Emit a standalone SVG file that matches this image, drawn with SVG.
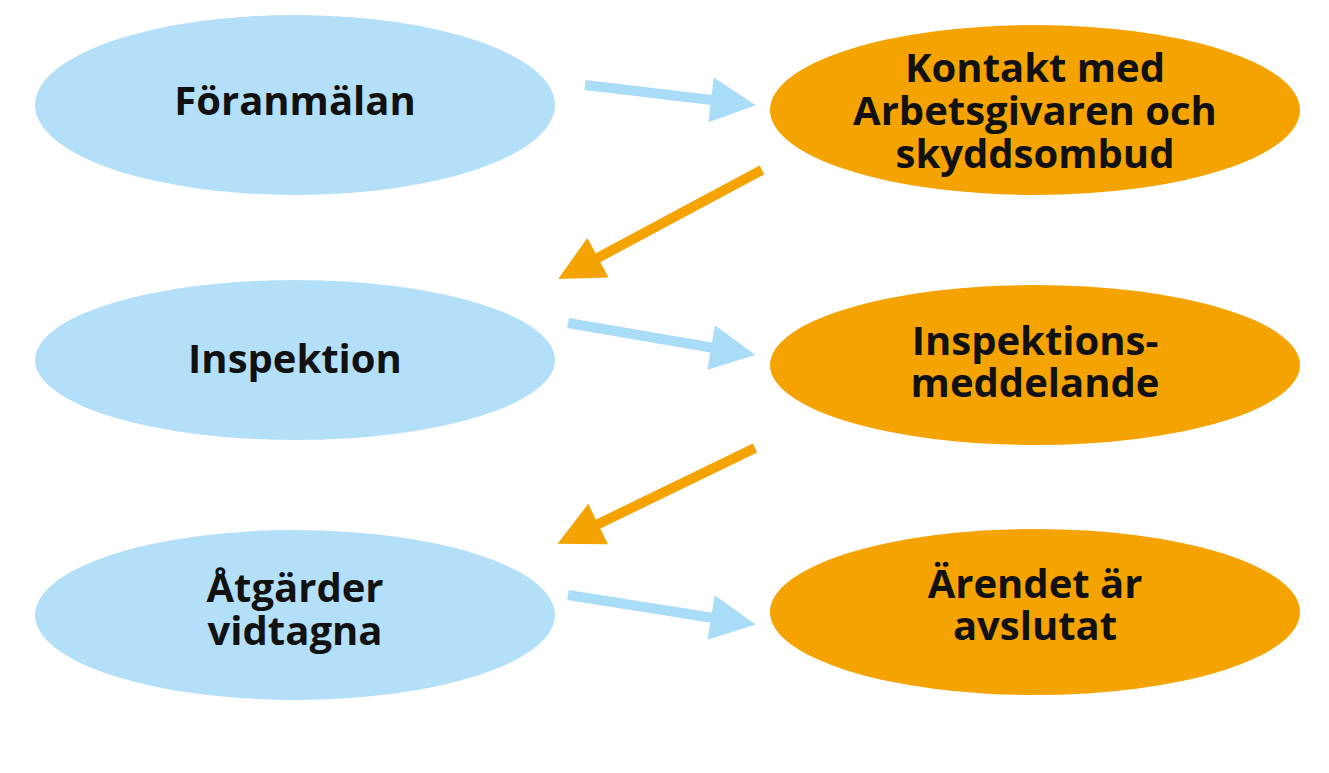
<svg xmlns="http://www.w3.org/2000/svg" width="1329" height="773" viewBox="0 0 1329 773">
<style>
.b{fill:#b3e0f8}.o{fill:#f5a300}
text{font-family:"Open Sans","DejaVu Sans",sans-serif;font-weight:bold;font-size:40px;fill:#111;text-anchor:middle}
.lb{stroke:#a9dcf7;stroke-width:10}.lo{stroke:#f5a300;stroke-width:10}
</style>
<defs>
<marker id="mb" viewBox="0 0 10 10" refX="2" refY="5" markerWidth="5" markerHeight="4.5" orient="auto" markerUnits="strokeWidth"><path d="M0,0L10,5L0,10z" fill="#a9dcf7"/></marker>
<marker id="mo" viewBox="0 0 10 10" refX="2" refY="5" markerWidth="5" markerHeight="4.5" orient="auto" markerUnits="strokeWidth"><path d="M0,0L10,5L0,10z" fill="#f5a300"/></marker>
</defs>
<rect width="1329" height="773" fill="#fff"/>
<g id="n1"><ellipse class="b" cx="295" cy="105" rx="260" ry="90"/><text x="295" y="115">Föranmälan</text></g>
<g id="n2"><ellipse class="o" cx="1035" cy="110" rx="265" ry="85"/><text x="1035" y="82">Kontakt med</text><text x="1035" y="125">Arbetsgivaren och</text><text x="1035" y="168">skyddsombud</text></g>
<g id="n3"><ellipse class="b" cx="295" cy="360" rx="260" ry="80"/><text x="295" y="373">Inspektion</text></g>
<g id="n4"><ellipse class="o" cx="1035" cy="365" rx="265" ry="80"/><text x="1035" y="355">Inspektions-</text><text x="1035" y="397">meddelande</text></g>
<g id="n5"><ellipse class="b" cx="295" cy="615" rx="260" ry="85"/><text x="295" y="602">Åtgärder</text><text x="295" y="645">vidtagna</text></g>
<g id="n6"><ellipse class="o" cx="1035" cy="612" rx="265" ry="83"/><text x="1035" y="598">Ärendet är</text><text x="1035" y="640">avslutat</text></g>
<g id="connectors">
<line class="lb" x1="585" y1="85" x2="720" y2="101" marker-end="url(#mb)"/>
<line class="lo" x1="762" y1="170" x2="590" y2="262" marker-end="url(#mo)"/>
<line class="lb" x1="568" y1="323" x2="720" y2="349" marker-end="url(#mb)"/>
<line class="lo" x1="755" y1="448" x2="590" y2="528" marker-end="url(#mo)"/>
<line class="lb" x1="568" y1="595" x2="720" y2="619" marker-end="url(#mb)"/>
</g>
</svg>
